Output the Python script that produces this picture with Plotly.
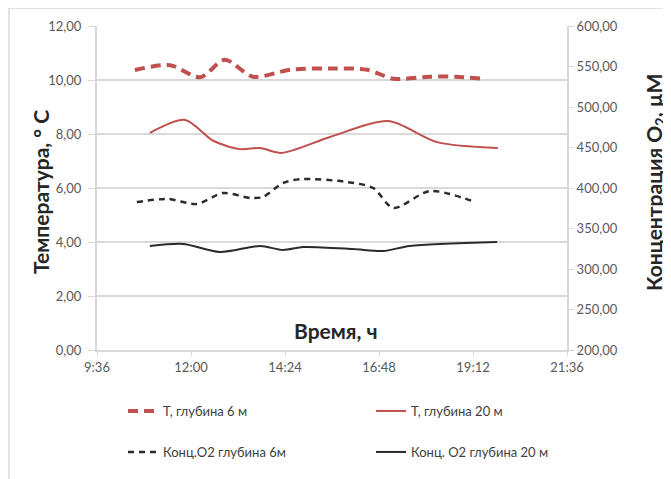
import plotly.graph_objects as go
from datetime import datetime

DAY = "2020-01-01 "

def t(hm):
    return datetime.strptime(DAY + hm, "%Y-%m-%d %H:%M")

# --- Data ---
t6_times = ["10:34", "11:28", "12:14", "12:52", "13:35", "14:32", "15:40", "16:30", "17:10", "18:05", "18:45", "19:25"]
t6_vals = [10.37, 10.55, 10.10, 10.75, 10.12, 10.38, 10.43, 10.38, 10.05, 10.12, 10.12, 10.05]

t20_times = ["10:57", "11:51", "12:34", "13:15", "13:46", "14:19", "15:33", "17:02", "18:17", "19:50"]
t20_vals = [8.04, 8.52, 7.75, 7.44, 7.48, 7.30, 7.89, 8.48, 7.70, 7.48]

o6_times = ["10:37", "11:25", "12:09", "12:49", "13:31", "13:50", "14:21", "14:50", "15:59", "16:39", "17:10", "18:06", "19:15"]
o6_vals = [382.7, 386.4, 380.2, 393.8, 387.7, 388.9, 406.2, 411.1, 407.4, 400.0, 375.3, 396.3, 382.7]

o20_times = ["10:57", "11:48", "12:44", "13:46", "14:21", "14:52", "16:08", "16:54", "17:35", "19:49"]
o20_vals = [328.4, 330.9, 321.0, 328.4, 323.5, 327.2, 324.7, 322.2, 328.4, 333.3]

x_tick_labels = ["9:36", "12:00", "14:24", "16:48", "19:12", "21:36"]
x_tick_times = ["09:36", "12:00", "14:24", "16:48", "19:12", "21:36"]

names = ["T, глубина 6 м", "T, глубина 20 м", "Конц.O2 глубина 6м", "Конц. O2 глубина 20 м"]

RED = "#c0504d"
BLK = "#2b2b2b"
GRID = "#d9d9d9"
TICKC = "#595959"
FONT = "Lato"
TITLEC = "#262626"

# page body has an 8px default margin; size figure to fit the 671x479 window
OFF = 8
W, H = 671 - OFF, 479 - OFF
PL, PT, PW, PH = 97, 26, 470, 324  # plot area in window pixels

fig = go.Figure()
fig.add_trace(go.Scatter(x=[t(s) for s in t6_times], y=t6_vals, name=names[0], mode="lines",
                         line=dict(color=RED, width=4, dash="10px,6px", shape="spline", smoothing=0.8),
                         legend="legend"))
fig.add_trace(go.Scatter(x=[t(s) for s in t20_times], y=t20_vals, name=names[1], mode="lines",
                         line=dict(color=RED, width=2, shape="spline", smoothing=0.8),
                         legend="legend2"))
fig.add_trace(go.Scatter(x=[t(s) for s in o6_times], y=o6_vals, name=names[2], mode="lines", yaxis="y2",
                         line=dict(color=BLK, width=2.5, dash="6px,5px", shape="spline", smoothing=0.8),
                         legend="legend3"))
fig.add_trace(go.Scatter(x=[t(s) for s in o20_times], y=o20_vals, name=names[3], mode="lines", yaxis="y2",
                         line=dict(color=BLK, width=2, shape="spline", smoothing=0.8),
                         legend="legend4"))

def px(X):
    return (X - PL) / PW

def py(Y):
    return (PT + PH - Y) / PH

def leg(xpx, ypx):
    return dict(orientation="h", x=px(xpx), y=py(ypx), xanchor="left", yanchor="middle",
                font=dict(family=FONT, size=13, color="#404040"), bgcolor="rgba(0,0,0,0)")

fig.update_layout(
    width=W, height=H,
    margin=dict(l=PL - OFF, r=W - (PL - OFF) - PW, t=PT - OFF, b=H - (PT - OFF) - PH, autoexpand=False),
    paper_bgcolor="white", plot_bgcolor="white",
    separators=", ",
    font=dict(family=FONT, size=13, color=TICKC),
    xaxis=dict(type="date", range=[t("09:36"), t("21:36")],
               tickvals=[t(s) for s in x_tick_times], ticktext=x_tick_labels,
               showgrid=False, showline=True, linecolor=GRID, linewidth=2,
               ticks="outside", ticklen=4, tickcolor=GRID, tickwidth=1,
               tickfont=dict(family=FONT, size=13, color=TICKC), zeroline=False),
    yaxis=dict(range=[0, 12], dtick=2, tickformat=".2f",
               showgrid=True, gridcolor=GRID, gridwidth=2,
               showline=True, linecolor=GRID, linewidth=2,
               ticks="outside", ticklen=7, tickcolor=GRID, ticklabelstandoff=4,
               tickfont=dict(family=FONT, size=13, color=TICKC), zeroline=False),
    yaxis2=dict(range=[200, 600], dtick=50, tickformat=".2f", overlaying="y", side="right",
                showgrid=False, showline=True, linecolor=GRID, linewidth=2,
                ticks="outside", ticklen=5, tickcolor=GRID,
                tickfont=dict(family=FONT, size=13, color=TICKC), zeroline=False),
    legend=leg(123, 411),
    legend2=leg(371, 411),
    legend3=leg(123, 452),
    legend4=leg(371, 452),
    showlegend=True,
)

fig.add_annotation(text="<b>Температура, ° C</b>", xref="paper", yref="paper",
                   x=px(40), y=py(192), xanchor="center", yanchor="middle",
                   xshift=0, showarrow=False, textangle=-90,
                   font=dict(family=FONT, size=21, color=TITLEC))
fig.add_annotation(text="<b>Концентрация O<sub>2</sub>, µM</b>", xref="paper", yref="paper",
                   x=px(655), y=py(183), xanchor="center", yanchor="middle",
                   showarrow=False, textangle=-90,
                   font=dict(family=FONT, size=21, color=TITLEC))
fig.add_annotation(text="<b>Время, ч</b>", xref="paper", yref="paper",
                   x=px(336), y=py(330), xanchor="center", yanchor="middle",
                   showarrow=False,
                   font=dict(family=FONT, size=21, color=TITLEC))

# outer chart border (top and left edges visible)
fig.add_shape(type="line", xref="paper", yref="paper", x0=px(9), x1=px(680),
              y0=py(8), y1=py(8), line=dict(color=GRID, width=1.5))
fig.add_shape(type="line", xref="paper", yref="paper", x0=px(9), x1=px(9),
              y0=py(8), y1=py(490), line=dict(color=GRID, width=1.5))

fig.write_html("out.html")
